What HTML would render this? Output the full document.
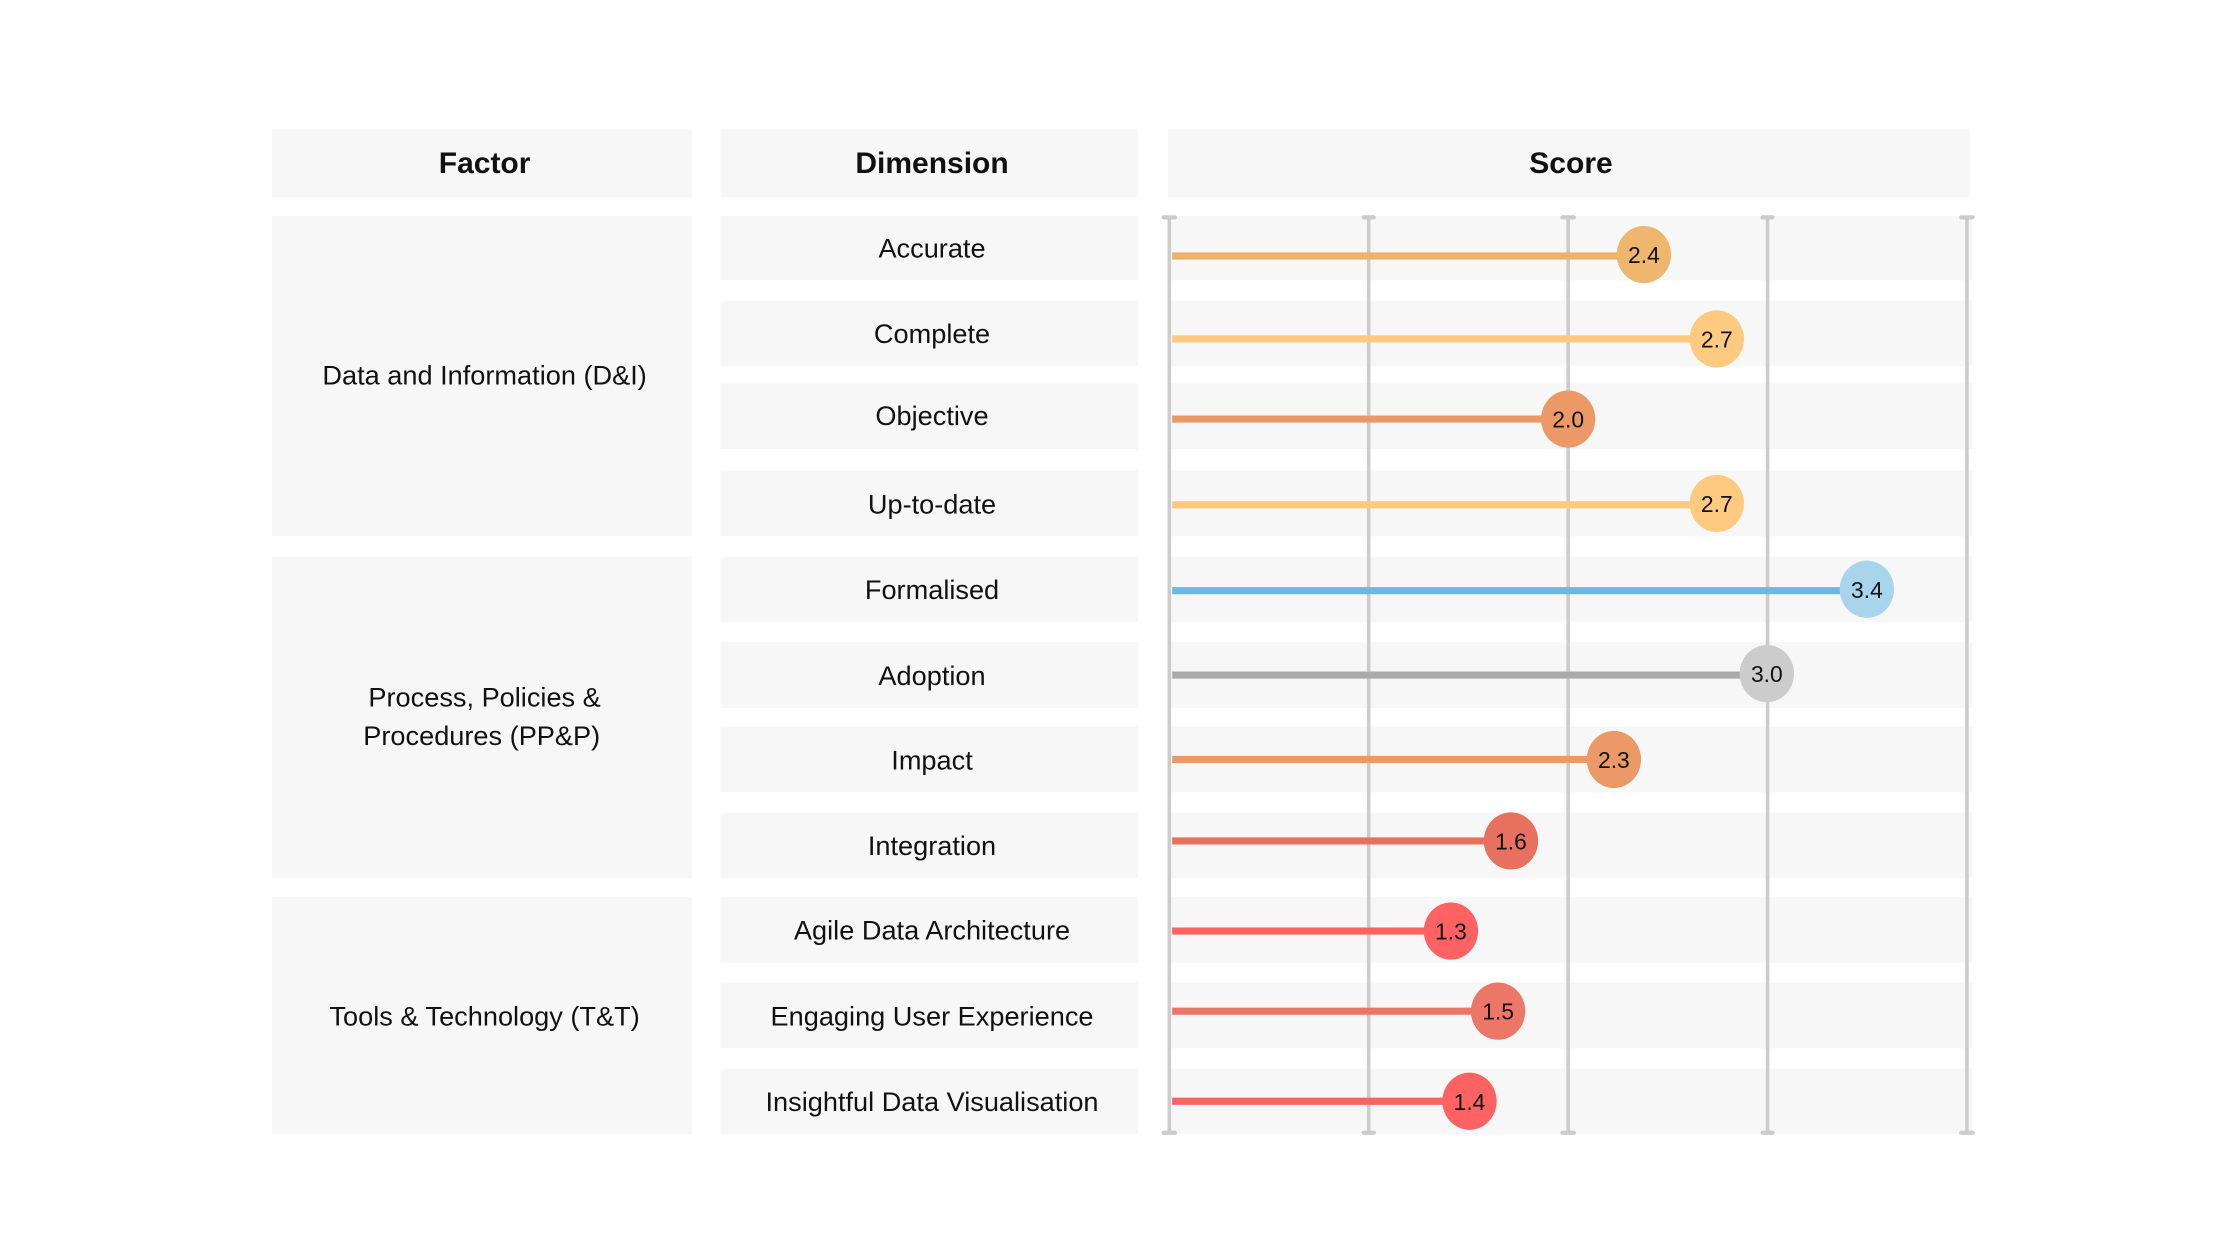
<!DOCTYPE html>
<html><head><meta charset="utf-8"><style>
html,body{margin:0;padding:0;background:#fff;}
svg{display:block;}
text{font-family:"Liberation Sans",sans-serif;fill:#111;}
</style></head><body>
<svg width="2240" height="1260" viewBox="0 0 1567 881" preserveAspectRatio="none">
<rect width="1567" height="881" fill="#fff"/>
<g fill="#f7f7f7">
<rect x="190" y="90" width="294" height="48"/>
<rect x="504" y="90" width="292" height="48"/>
<rect x="817" y="90" width="561" height="48"/>
<rect x="190" y="151" width="294" height="224"/>
<rect x="190" y="389" width="294" height="225"/>
<rect x="190" y="627" width="294" height="166"/>
<rect x="504" y="151" width="292" height="45"/><rect x="817" y="151" width="563" height="45"/>
<rect x="504" y="210" width="292" height="46"/><rect x="817" y="210" width="563" height="46"/>
<rect x="504" y="268" width="292" height="46"/><rect x="817" y="268" width="563" height="46"/>
<rect x="504" y="329" width="292" height="46"/><rect x="817" y="329" width="563" height="46"/>
<rect x="504" y="389" width="292" height="46"/><rect x="817" y="389" width="563" height="46"/>
<rect x="504" y="449" width="292" height="46"/><rect x="817" y="449" width="563" height="46"/>
<rect x="504" y="508" width="292" height="46"/><rect x="817" y="508" width="563" height="46"/>
<rect x="504" y="568" width="292" height="46"/><rect x="817" y="568" width="563" height="46"/>
<rect x="504" y="627" width="292" height="46"/><rect x="817" y="627" width="563" height="46"/>
<rect x="504" y="687" width="292" height="46"/><rect x="817" y="687" width="563" height="46"/>
<rect x="504" y="747" width="292" height="46"/><rect x="817" y="747" width="563" height="46"/>
</g>
<g font-weight="bold" font-size="21" text-anchor="middle">
<text x="339" y="121">Factor</text>
<text x="652" y="121">Dimension</text>
<text x="1099" y="121">Score</text>
</g>
<g font-size="19" text-anchor="middle">
<text x="339" y="269">Data and Information (D&amp;I)</text>
<text x="339" y="494">Process, Policies &amp;</text>
<text x="337" y="521">Procedures (PP&amp;P)</text>
<text x="339" y="717">Tools &amp; Technology (T&amp;T)</text>
<text x="652" y="180">Accurate</text>
<text x="652" y="240">Complete</text>
<text x="652" y="297">Objective</text>
<text x="652" y="359">Up-to-date</text>
<text x="652" y="419">Formalised</text>
<text x="652" y="479">Adoption</text>
<text x="652" y="538">Impact</text>
<text x="652" y="598">Integration</text>
<text x="652" y="657">Agile Data Architecture</text>
<text x="652" y="717">Engaging User Experience</text>
<text x="652" y="777">Insightful Data Visualisation</text>
</g>
<g stroke="#cccccc" stroke-width="2.5">
<line x1="818" y1="152" x2="818" y2="792"/>
<line x1="957.5" y1="152" x2="957.5" y2="792"/>
<line x1="1097" y1="152" x2="1097" y2="792"/>
<line x1="1236.5" y1="152" x2="1236.5" y2="792"/>
<line x1="1376" y1="152" x2="1376" y2="792"/>
</g>
<g stroke="#cccccc" stroke-width="3" stroke-linecap="round">
<line x1="814" y1="152" x2="822" y2="152"/><line x1="954" y1="152" x2="961" y2="152"/><line x1="1093" y1="152" x2="1101" y2="152"/><line x1="1233" y1="152" x2="1240" y2="152"/><line x1="1372" y1="152" x2="1380" y2="152"/>
<line x1="814" y1="792" x2="822" y2="792"/><line x1="954" y1="792" x2="961" y2="792"/><line x1="1093" y1="792" x2="1101" y2="792"/><line x1="1233" y1="792" x2="1240" y2="792"/><line x1="1372" y1="792" x2="1380" y2="792"/>
</g>
<g stroke-width="5">
<line x1="820" y1="179" x2="1150" y2="179" stroke="#ebb26c"/>
<line x1="820" y1="237" x2="1201" y2="237" stroke="#fcc97e"/>
<line x1="820" y1="293" x2="1097" y2="293" stroke="#ea9866"/>
<line x1="820" y1="353" x2="1201" y2="353" stroke="#fcc97e"/>
<line x1="820" y1="413" x2="1306" y2="413" stroke="#6bb9e2"/>
<line x1="820" y1="472" x2="1236" y2="472" stroke="#aaaaaa"/>
<line x1="820" y1="531" x2="1129" y2="531" stroke="#eb9966"/>
<line x1="820" y1="588" x2="1057" y2="588" stroke="#e8705f"/>
<line x1="820" y1="651" x2="1015" y2="651" stroke="#fc6262"/>
<line x1="820" y1="707" x2="1048" y2="707" stroke="#ea7566"/>
<line x1="820" y1="770" x2="1028" y2="770" stroke="#fc6262"/>
</g>
<g>
<ellipse cx="1150" cy="178" rx="19" ry="20" fill="#efb66d"/>
<ellipse cx="1201" cy="237" rx="19" ry="20" fill="#fdca7f"/>
<ellipse cx="1097" cy="293" rx="19" ry="20" fill="#eb9a67"/>
<ellipse cx="1201" cy="352" rx="19" ry="20" fill="#fdca7f"/>
<ellipse cx="1306" cy="412" rx="19" ry="20" fill="#a8d4ec"/>
<ellipse cx="1236" cy="471" rx="19" ry="20" fill="#cccccc"/>
<ellipse cx="1129" cy="531" rx="19" ry="20" fill="#eb9966"/>
<ellipse cx="1057" cy="588" rx="19" ry="20" fill="#e8705f"/>
<ellipse cx="1015" cy="651" rx="19" ry="20" fill="#fe6262"/>
<ellipse cx="1048" cy="707" rx="19" ry="20" fill="#ec7766"/>
<ellipse cx="1028" cy="770" rx="19" ry="20" fill="#fe6262"/>
</g>
<g font-size="16" text-anchor="middle">
<text x="1150" y="184">2.4</text>
<text x="1201" y="243">2.7</text>
<text x="1097" y="299">2.0</text>
<text x="1201" y="358">2.7</text>
<text x="1306" y="418">3.4</text>
<text x="1236" y="477">3.0</text>
<text x="1129" y="537">2.3</text>
<text x="1057" y="594">1.6</text>
<text x="1015" y="657">1.3</text>
<text x="1048" y="713">1.5</text>
<text x="1028" y="776">1.4</text>
</g>
</svg>
</body></html>
